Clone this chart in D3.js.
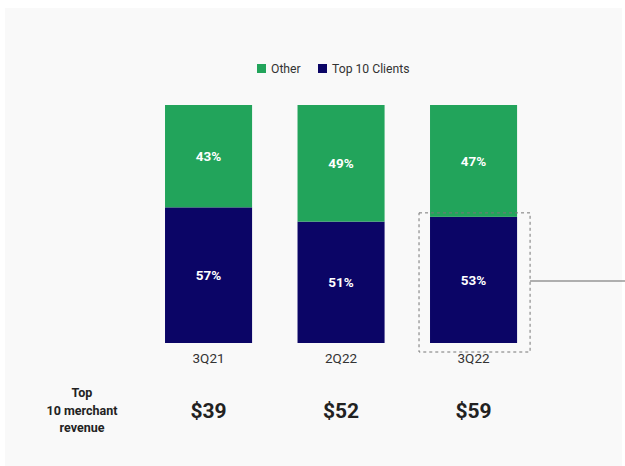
<!DOCTYPE html>
<html>
<head>
<meta charset="utf-8">
<script src="https://cdn.jsdelivr.net/npm/d3@7"></script>
<style>
  body { margin: 0; background: #ffffff; }
  svg { display: block; font-family: Roboto, "Noto Sans", sans-serif; }
</style>
</head>
<body>
<div class="chart"></div>
<script>
var quarters = ["3Q21", "2Q22", "3Q22"];
var top10Share = [57, 51, 53];
var otherShare = [43, 49, 47];
var revenue = ["$39", "$52", "$59"];
var seriesNames = ["Other", "Top 10 Clients"];
var colors = {"Other": "#22a45b", "Top 10 Clients": "#0b0566"};

var w = 625;
var h = 466;

var svg = d3.select(".chart")
            .append("svg")
            .attr("width", w)
            .attr("height", h);

// light panel
svg.append("rect")
   .attr("x", 5).attr("y", 8)
   .attr("width", 617).attr("height", 458)
   .attr("fill", "#f9f9f9");

var xScale = d3.scaleBand()
               .domain(quarters)
               .range([142.3, 539.8])
               .paddingInner(0.343)
               .paddingOuter(0.1715);

var yScale = d3.scaleLinear()
               .domain([0, 100])
               .range([343, 105]);

var data = quarters.map(function(q, i) {
    return {quarter: q, "Top 10 Clients": top10Share[i], "Other": otherShare[i]};
});

var stack = d3.stack().keys(["Top 10 Clients", "Other"]);
var layers = stack(data);

var groups = svg.selectAll(".layer")
                .data(layers)
                .enter()
                .append("g")
                .attr("class", "layer")
                .attr("fill", function(d) { return colors[d.key]; });

groups.selectAll("rect")
      .data(function(d) { return d; })
      .enter()
      .append("rect")
      .attr("x", function(d) { return xScale(d.data.quarter); })
      .attr("y", function(d) { return yScale(d[1]); })
      .attr("width", xScale.bandwidth())
      .attr("height", function(d) { return yScale(d[0]) - yScale(d[1]); });

groups.selectAll("text")
      .data(function(d) { return d; })
      .enter()
      .append("text")
      .attr("x", function(d) { return xScale(d.data.quarter) + xScale.bandwidth() / 2; })
      .attr("y", function(d) { return (yScale(d[0]) + yScale(d[1])) / 2 + 5; })
      .attr("text-anchor", "middle")
      .attr("fill", "#ffffff")
      .attr("font-size", "13.5px")
      .attr("font-weight", "bold")
      .text(function(d) { return (d[1] - d[0]) + "%"; });

// dashed highlight around last top-10 segment
var last = quarters[quarters.length - 1];
var lastTop = yScale(top10Share[top10Share.length - 1]);
var hx0 = xScale(last) - 11;
var hx1 = xScale(last) + xScale.bandwidth() + 13;
svg.append("rect")
   .attr("x", hx0).attr("y", lastTop - 4)
   .attr("width", hx1 - hx0)
   .attr("height", yScale(0) + 9 - (lastTop - 4))
   .attr("fill", "none")
   .attr("stroke", "#777")
   .attr("stroke-width", 1)
   .attr("stroke-dasharray", "3,3");

svg.append("line")
   .attr("x1", hx1).attr("x2", w)
   .attr("y1", 281).attr("y2", 281)
   .attr("stroke", "#666")
   .attr("stroke-width", 1.2);

// x axis labels
var xAxis = d3.axisBottom(xScale).tickSize(0).tickPadding(10);
var gx = svg.append("g")
            .attr("transform", "translate(0," + yScale(0) + ")")
            .call(xAxis);
gx.select(".domain").remove();
gx.selectAll("text")
  .attr("font-size", "13.5px")
  .attr("font-family", "Roboto, sans-serif")
  .attr("fill", "#333");

// revenue row
svg.selectAll(".rev")
   .data(revenue)
   .enter()
   .append("text")
   .attr("class", "rev")
   .attr("x", function(d, i) { return xScale(quarters[i]) + xScale.bandwidth() / 2; })
   .attr("y", 418)
   .attr("text-anchor", "middle")
   .attr("font-size", "21px")
   .attr("font-weight", "bold")
   .attr("fill", "#222")
   .text(function(d) { return d; });

var rowLabel = ["Top", "10 merchant", "revenue"];
svg.selectAll(".rowlab")
   .data(rowLabel)
   .enter()
   .append("text")
   .attr("class", "rowlab")
   .attr("x", 82)
   .attr("y", function(d, i) { return 397 + i * 17.5; })
   .attr("text-anchor", "middle")
   .attr("font-size", "12.5px")
   .attr("font-weight", "bold")
   .attr("fill", "#222")
   .text(function(d) { return d; });

// legend
var legendX = [257, 318];
var legend = svg.selectAll(".legend")
                .data(seriesNames)
                .enter()
                .append("g")
                .attr("class", "legend")
                .attr("transform", function(d, i) { return "translate(" + legendX[i] + ",64)"; });
legend.append("rect")
      .attr("width", 9).attr("height", 9)
      .attr("fill", function(d) { return colors[d]; });
legend.append("text")
      .attr("x", 14).attr("y", 9)
      .attr("font-size", "12.2px")
      .attr("fill", "#333")
      .text(function(d) { return d; });
</script>
</body>
</html>
